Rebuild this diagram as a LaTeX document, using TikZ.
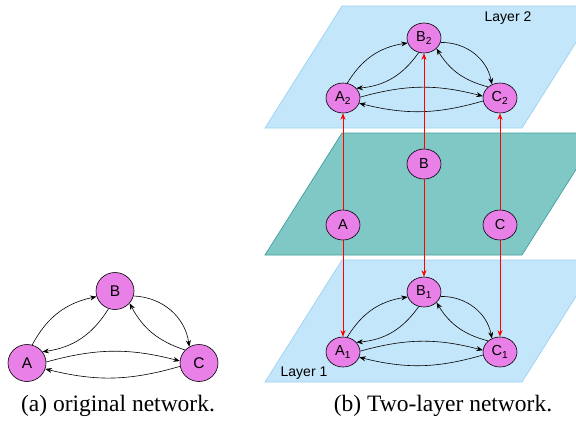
\documentclass[tikz,border=0pt]{standalone}
\usepackage{fontspec}
\setmainfont{Liberation Serif}
\newfontfamily\labelfont{Liberation Sans}
\usetikzlibrary{arrows.meta, shapes.geometric}
\definecolor{NodeViolet}{HTML}{E880E8}
\definecolor{LayerBlue}{HTML}{C4E6FA}
\definecolor{LayerLine}{HTML}{9CD2F2}
\definecolor{MidTeal}{HTML}{80C8C6}
\definecolor{MidLine}{HTML}{3F9F9C}
\tikzset{
    vertex/.style={ellipse, draw=black, fill=NodeViolet, line width=0.6pt, inner sep=0pt,
        minimum width=34pt, minimum height=30pt, font=\labelfont\fontsize{14.5}{14.5}\selectfont},
    bigvertex/.style={vertex, minimum width=38pt, minimum height=37pt, font=\labelfont\fontsize{15.5}{15.5}\selectfont},
    link/.style={-{Stealth[length=6.5pt, width=5pt]}, line width=0.6pt},
    couple/.style={-{Stealth[length=6.5pt, width=5pt]}, red, line width=0.7pt},
    caption/.style={font=\fontsize{23.5}{23.5}\selectfont},
}

\begin{document}
\begin{tikzpicture}[x=1pt, y=-1pt]
    % =========================================
    % 1. 画布
    % =========================================
    \useasboundingbox (0,0) rectangle (576,423);
    \clip (0,0) rectangle (576,423);

    % =========================================
    % 2. 三个平面 (Layer 2, 中间层, Layer 1)
    % =========================================
    \foreach \yt/\fc/\lc in {6/LayerBlue/LayerLine, 133/MidTeal/MidLine, 260/LayerBlue/LayerLine} {
        \filldraw[fill=\fc, draw=\lc, line width=0.7pt]
            (265,\yt+122) -- (522,\yt+122) -- (599,\yt) -- (342,\yt) -- cycle;
    }
    \node[font=\labelfont\fontsize{14}{14}\selectfont] (lay2) at (508,18) {Layer 2};
    \node[font=\labelfont\fontsize{14}{14}\selectfont] (lay1) at (304,373) {Layer 1};

    % =========================================
    % 3. 节点
    % =========================================
    % (a) 原始网络
    \node[bigvertex] (A) at (27,363) {A};
    \node[bigvertex] (B) at (115,291) {B};
    \node[bigvertex] (C) at (199,363) {C};

    % (b) 两层网络
    \node[vertex] (A2) at (343,98) {A\textsubscript{2}};
    \node[vertex] (B2) at (424,38) {B\textsubscript{2}};
    \node[vertex] (C2) at (500,98) {C\textsubscript{2}};
    \node[vertex] (Am) at (343,225) {A};
    \node[vertex] (Bm) at (424,164) {B};
    \node[vertex] (Cm) at (500,225) {C};
    \node[vertex] (A1) at (343,352) {A\textsubscript{1}};
    \node[vertex] (B1) at (424,292) {B\textsubscript{1}};
    \node[vertex] (C1) at (500,352) {C\textsubscript{1}};

    % =========================================
    % 4. 连线
    % =========================================
    \foreach \s in {, 1, 2} {
        \draw[link] (A\s.74)  to[bend left=25] (B\s.197);
        \draw[link] (B\s.250) to[bend left=25] (A\s.36);
        \draw[link] (B\s.345) to[bend left=40] (C\s.121);
        \draw[link] (C\s.137) to[bend left=22] (B\s.320);
        \draw[link] (A\s.3)   to[bend left=15] (C\s.174);
        \draw[link] (C\s.190) to[bend left=15] (A\s.342);
    }

    % 层间耦合 (红线)
    \foreach \n in {A, B, C} {
        \draw[couple] (\n m) -- (\n 2);
        \draw[couple] (\n m) -- (\n 1);
    }

    % =========================================
    % 5. 标题
    % =========================================
    \node[caption] (capa) at (118,406) {(a) original network.};
    \node[caption] (capb) at (443,406) {(b) Two-layer network.};
\end{tikzpicture}
\end{document}
